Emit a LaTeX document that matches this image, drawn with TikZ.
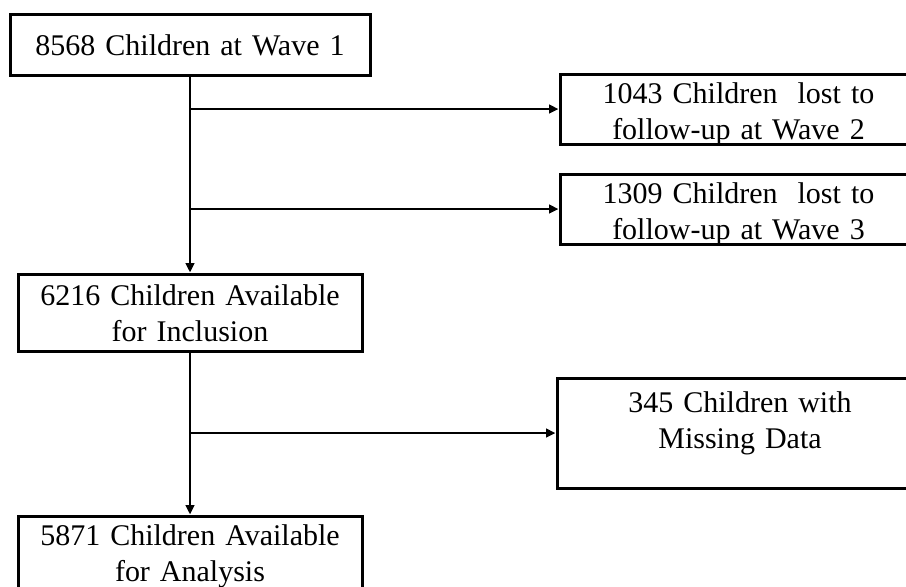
\documentclass[tikz,border=0pt]{standalone}
\usepackage{fontspec}
\setmainfont{Liberation Serif}
\usetikzlibrary{arrows.meta, positioning}

\begin{document}
\begin{tikzpicture}[
    x=1pt, y=-1pt,
    node distance=1cm,
    block/.style={rectangle, draw=black, fill=white, line width=3pt, inner sep=0pt, align=center, font=\fontsize{30}{36}\selectfont},
    arrow/.style={-{Triangle[width=8.5pt, length=9.5pt]}, line width=2.6pt, draw=black}
]
    \useasboundingbox (0,0) rectangle (906,587);

    \node[block, text width=360pt, text height=41pt, text depth=20pt] (wave1) at (190,44.5) {8568 Children at Wave 1};
    \node[block, text width=344pt, text height=31pt, text depth=46pt, below=196pt of wave1] (avail) {6216 Children Available\\for Inclusion};
    \node[block, text width=344pt, text height=29pt, text depth=80pt, below=162pt of avail] (analysis) {5871 Children Available\\for Analysis};

    \node[block, text width=357pt, text height=29pt, text depth=41pt] (lost2) at (738.5,109) {1043 Children\ \ lost to\\follow-up at Wave 2};
    \node[block, text width=357pt, text height=29pt, text depth=41pt] (lost3) at (738.5,209) {1309 Children\ \ lost to\\follow-up at Wave 3};
    \node[block, text width=366pt, text height=34pt, text depth=76pt] (missing) at (740,433) {345 Children with\\Missing Data};

    \draw[arrow] (wave1) -- (avail);
    \draw[arrow] (wave1.south |- lost2.west) -- (lost2.west);
    \draw[arrow] (wave1.south |- lost3.west) -- (lost3.west);
    \draw[arrow] (avail) -- (analysis);
    \draw[arrow] (avail.south |- missing.west) -- (missing.west);
\end{tikzpicture}
\end{document}
